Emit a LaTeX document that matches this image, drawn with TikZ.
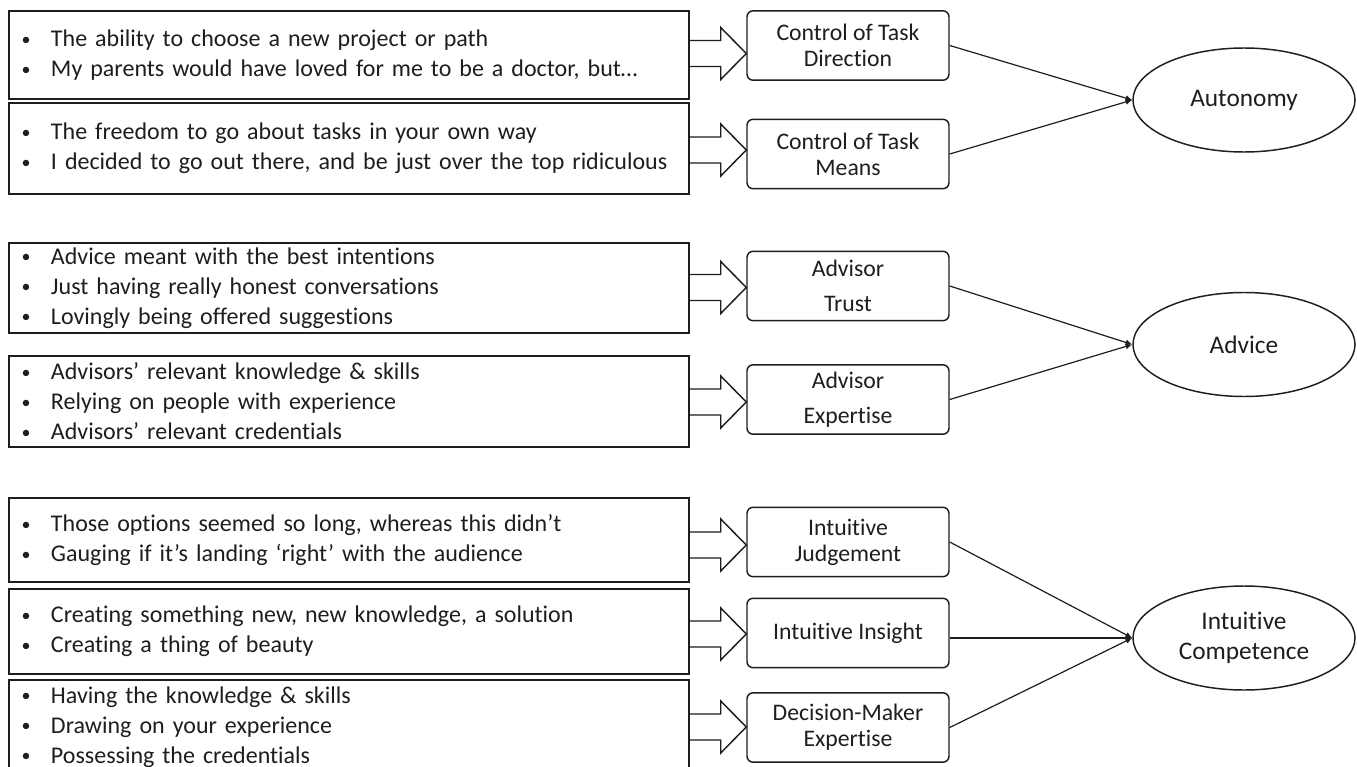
\documentclass[tikz,border=0pt]{standalone}
\usepackage{fontspec}
\usepackage{graphicx}
\setmainfont{Carlito}[Ligatures={TeX,NoCommon}]
\usetikzlibrary{arrows.meta,shapes.geometric,calc}
\definecolor{ink}{HTML}{1E1E1E}
\newcommand{\bl}[1]{\makebox[23.25pt][l]{\hspace{1.2pt}\raisebox{0.12ex}{\scalebox{0.75}{\textbullet}}}#1}
\newcommand{\barr}[3]{%
  \coordinate (t) at ($(#1.east)+(0,#3)$);
  \draw[blockar] (t) ++(0,-13) -- ++(31,0) -- ++(0,-13) -- (#2.west |- t) -- ($(t)+(31,26)$) -- ++(0,-13) -- ++(-31,0);}
\begin{document}
\begin{tikzpicture}[x=0.75pt,y=-0.75pt,
  lbox/.style={draw=ink, line width=1.1pt, minimum width=510pt, inner xsep=8.25pt, inner ysep=0pt,
    text width=493.5pt, align=left, font=\fontsize{18}{22.5}\selectfont, text=ink},
  rbox/.style={draw=ink, line width=1.1pt, rounded corners=4.5pt, minimum width=151.5pt, minimum height=52pt,
    align=center, font=\fontsize{17.8}{19.5}\selectfont, text=ink, inner sep=0pt},
  rboxw/.style={rbox, font=\fontsize{17.8}{26.25}\selectfont},
  oval/.style={ellipse, draw=ink, line width=1.1pt, minimum width=166.5pt, minimum height=78pt,
    align=center, font=\fontsize{19}{22.5}\selectfont, text=ink, inner sep=0pt},
  blockar/.style={draw=ink, line width=1.1pt, line join=miter},
  link/.style={draw=ink, line width=0.9pt, -{Latex[length=5pt,width=4.5pt]}}
]
\useasboundingbox[fill=white] (0,0) rectangle (1357,767);

% left boxes
\node[lbox, minimum height={88*0.75pt}] (b1) at (349,55)
  {\bl{The ability to choose a new project or path}\\\bl{My parents would have loved for me to be a doctor, but…}};
\node[lbox, minimum height={91*0.75pt}] (b2) at (349,148.5)
  {\bl{The freedom to go about tasks in your own way}\\\bl{I decided to go out there, and be just over the top ridiculous}};
\node[lbox, minimum height={90*0.75pt}] (b3) at (349,288)
  {\bl{Advice meant with the best intentions}\\\bl{Just having really honest conversations}\\\bl{Lovingly being offered suggestions}};
\node[lbox, minimum height={91*0.75pt}] (b4) at (349,401.5)
  {\bl{Advisors’ relevant knowledge \& skills}\\\bl{Relying on people with experience}\\\bl{Advisors’ relevant credentials}};
\node[lbox, minimum height={84*0.75pt}] (b5) at (349,540)
  {\bl{Those options seemed so long, whereas this didn’t}\\\bl{Gauging if it’s landing ‘right’ with the audience}};
\node[lbox, minimum height={85*0.75pt}] (b6) at (349,631.5)
  {\bl{Creating something new, new knowledge, a solution}\\\bl{Creating a thing of beauty}};
\node[lbox, minimum height={94*0.75pt}] (b7) at (349,727)
  {\bl{Having the knowledge \& skills}\\\bl{Drawing on your experience}\\\bl{Possessing the credentials}};

% rounded boxes
\node[rbox] (r1) at (848,45.5) {Control of Task\\Direction};
\node[rbox] (r2) at (848,154) {Control of Task\\Means};
\node[rboxw] (r3) at (848,286) {Advisor\\Trust};
\node[rboxw] (r4) at (848,399.5) {Advisor\\Expertise};
\node[rbox] (r5) at (848,542) {Intuitive\\Judgement};
\node[rbox] (r6) at (848,633) {Intuitive Insight};
\node[rbox] (r7) at (848,727.5) {Decision-Maker\\Expertise};

% ellipses
\node[oval] (e1) at (1244,100) {Autonomy};
\node[oval] (e2) at (1244,344.5) {Advice};
\node[oval, font=\fontsize{19}{22.5}\selectfont] (e3) at (1244,638) {Intuitive\\Competence};

% block arrows
\barr{b1}{r1}{-1.5}
\barr{b2}{r2}{1.5}
\barr{b3}{r3}{-0.5}
\barr{b4}{r4}{0.5}
\barr{b5}{r5}{5}
\barr{b6}{r6}{2.5}
\barr{b7}{r7}{0}

% links
\draw[link] (r1.east) -- (e1.west);
\draw[link] (r2.east) -- (e1.west);
\draw[link] (r3.east) -- (e2.west);
\draw[link] (r4.east) -- (e2.west);
\draw[link] (r5.east) -- (e3.west);
\draw[link] (r6.east |- e3.west) -- (e3.west);
\draw[link] (r7.east) -- (e3.west);
\end{tikzpicture}
\end{document}
